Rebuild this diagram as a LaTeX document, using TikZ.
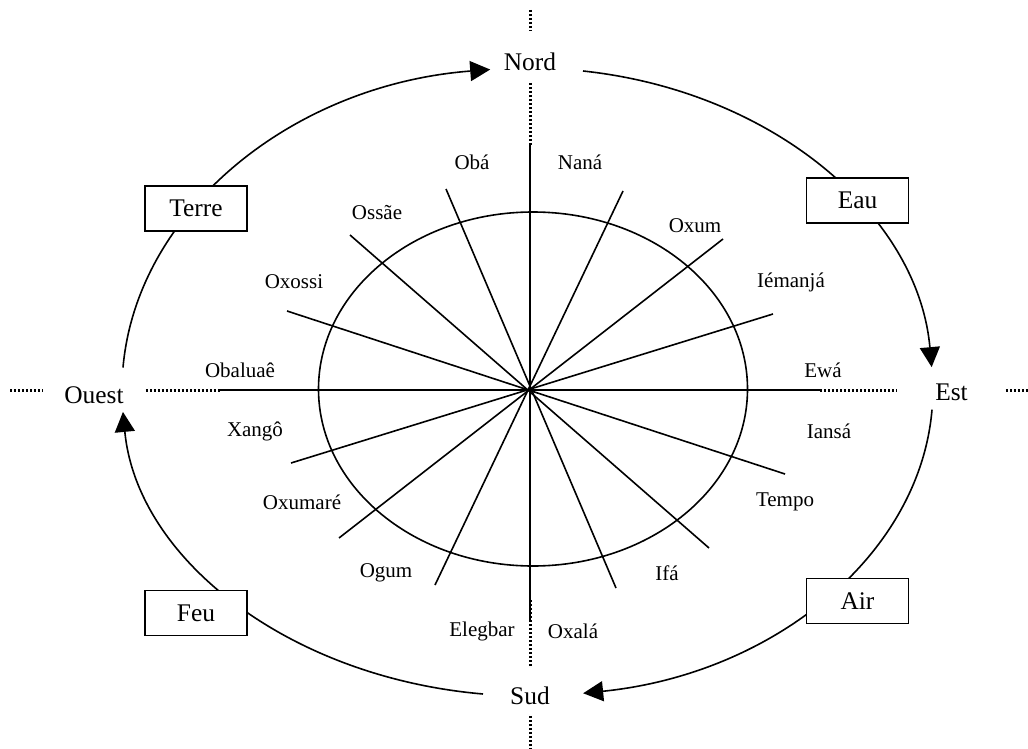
\documentclass[tikz,border=0pt]{standalone}
\usepackage{fontspec}
\setmainfont{Liberation Serif}
\usetikzlibrary{arrows.meta}

\tikzset{
  pole/.style={inner sep=0pt, font=\fontsize{12.7}{14}\selectfont},
  element/.style={draw, fill=white, line width=0.8pt, minimum width=51pt,
    minimum height=22.5pt, inner sep=0pt, font=\fontsize{12.7}{14}\selectfont},
  orixa/.style={inner sep=0pt, font=\fontsize{10.5}{12}\selectfont},
  axis/.style={line width=1.5pt, dash pattern=on 1pt off 1pt},
  flow/.style={line width=0.8pt, -{Triangle[length=10pt,width=10pt]}},
}

\begin{document}
\begin{tikzpicture}[x=0.5pt, y=0.5pt, line width=0.8pt]
  \useasboundingbox (0,0) rectangle (1028,-749);

  % cardinal points
  \node[pole, text height=19.25pt, text depth=5.75pt] (nord) at (530,-57) {Nord};
  \node[pole, text height=18.75pt, text depth=5.25pt] (sud) at (530,-691) {Sud};
  \node[pole, text height=15pt, text depth=2pt, minimum width=51pt] (ouest) at (94,-390) {Ouest};
  \node[pole, text height=12pt, text depth=2pt, minimum width=53.5pt] (est) at (951.5,-390) {Est};

  \coordinate (axN) at (530,-10);
  \coordinate (axS) at (530,-749);
  \coordinate (axW) at (10,-390);
  \coordinate (axE) at (1028,-390);
  \coordinate (spN) at (530,-145);
  \coordinate (spS) at (530,-600);
  \coordinate (spW) at (220,-390);
  \coordinate (spE) at (820,-390);

  % dotted axes
  \draw[axis] (axN) -- (nord);
  \draw[axis] (nord) -- (spN);
  \draw[axis] (spS) -- (sud);
  \draw[axis] (sud) -- (axS);
  \draw[axis] (axW) -- (ouest);
  \draw[axis] (ouest) -- (spW);
  \draw[axis] (spE) -- (est);
  \draw[axis] (est) -- (axE);

  % star and circle
  \foreach \xa/\ya/\xb/\yb in {530/143/530/622, 220/390/820/390,
      446/189/616/588, 623/191/435/585, 350/235/709/548,
      723/239/339/538, 287/311/785/474, 773/314/291/463}
    \draw (\xa,-\ya) -- (\xb,-\yb);
  \draw (533,-389) ellipse [x radius=107.25pt, y radius=88.5pt];

  % cycle
  \coordinate (ouestN) at (123,-367.5);
  \coordinate (nordE) at (583,-71);
  \coordinate (estS) at (932,-409.7);
  \coordinate (sudW) at (483,-694);
  \draw[flow] (ouestN) arc[start angle=176, end angle=95.6, x radius=204pt, y radius=161pt];
  \draw[flow] (nordE) arc[start angle=82.4, end angle=4.1, x radius=201.5pt, y radius=161pt];
  \draw[flow] (estS) arc[start angle=-3.7, end angle=-82.4, x radius=201.5pt, y radius=153pt];
  \draw[flow] (sudW) arc[start angle=263.4, end angle=184.1, x radius=204pt, y radius=153pt];

  \node[element] (terre) at (196,-208.5) {Terre};
  \node[element] (eau) at (857.5,-200.5) {Eau};
  \node[element] (feu) at (196,-613) {Feu};
  \node[element] (air) at (857.5,-601) {Air};

  % orixas
  \node[orixa] (oba) at (472,-162) {Obá};
  \node[orixa] (nana) at (580,-162) {Naná};
  \node[orixa] (ossae) at (377,-213) {Ossãe};
  \node[orixa] (oxum) at (695,-226) {Oxum};
  \node[orixa] (oxossi) at (294,-282) {Oxossi};
  \node[orixa] (iemanja) at (791,-282) {Iémanjá};
  \node[orixa] (obaluae) at (240,-370) {Obaluaê};
  \node[orixa] (ewa) at (823,-370) {Ewá};
  \node[orixa] (xango) at (255,-431) {Xangô};
  \node[orixa] (iansa) at (829,-431) {Iansá};
  \node[orixa] (oxumare) at (302,-502) {Oxumaré};
  \node[orixa] (tempo) at (785,-502) {Tempo};
  \node[orixa] (ogum) at (386,-573) {Ogum};
  \node[orixa] (ifa) at (667,-573) {Ifá};
  \node[orixa] (elegbar) at (482,-631) {Elegbar};
  \node[orixa] (oxala) at (573,-631) {Oxalá};
\end{tikzpicture}
\end{document}
